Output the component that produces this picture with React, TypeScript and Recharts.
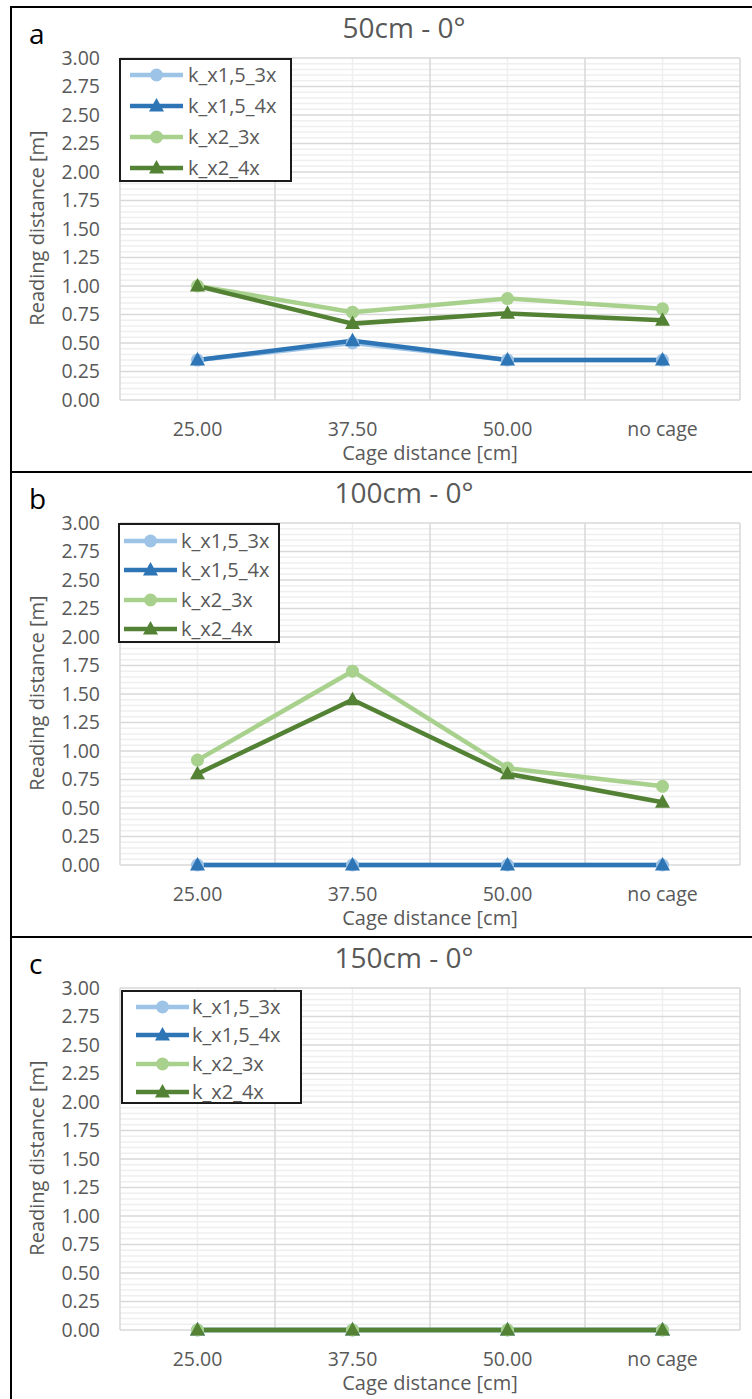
import React from 'react';
import { LineChart, Line, XAxis, YAxis, ReferenceLine } from 'recharts';

const categories = ['25.00', '37.50', '50.00', 'no cage'];
const seriesNames = ['k_x1,5_3x', 'k_x1,5_4x', 'k_x2_3x', 'k_x2_4x'];
const seriesColors = ['#9DC3E6', '#2E75B6', '#A9D18E', '#548235'];
const seriesMarkers = ['circle', 'triangle', 'circle', 'triangle'];
const yTicks = [0, 0.25, 0.5, 0.75, 1, 1.25, 1.5, 1.75, 2, 2.25, 2.5, 2.75, 3];

// 50cm - 0°
const a_x15_3x = [0.35, 0.5, 0.35, 0.35];
const a_x15_4x = [0.35, 0.52, 0.35, 0.35];
const a_x2_3x = [1.0, 0.77, 0.89, 0.8];
const a_x2_4x = [1.0, 0.67, 0.76, 0.7];

// 100cm - 0°
const b_x15_3x = [0, 0, 0, 0];
const b_x15_4x = [0, 0, 0, 0];
const b_x2_3x = [0.92, 1.7, 0.85, 0.69];
const b_x2_4x = [0.8, 1.45, 0.8, 0.55];

// 150cm - 0°
const c_x15_3x = [0, 0, 0, 0];
const c_x15_4x = [0, 0, 0, 0];
const c_x2_3x = [0, 0, 0, 0];
const c_x2_4x = [0, 0, 0, 0];

const FONT = '"Open Sans", "Noto Sans", sans-serif';
const TEXT = '#595959';

const makeRows = (s: number[][]) =>
  categories.map((c, i) => ({ x: i + 0.5, cat: c, s0: s[0][i], s1: s[1][i], s2: s[2][i], s3: s[3][i] }));

const minorY: number[] = [];
for (let i = 1; i < 60; i++) if (i % 5 !== 0) minorY.push(i * 0.05);

const Marker = ({ kind, cx, cy, color }: any) =>
  kind === 'circle' ? (
    <circle cx={cx} cy={cy} r={6.5} fill={color} />
  ) : (
    <path d={`M${cx},${cy - 8} L${cx + 7.5},${cy + 5.5} L${cx - 7.5},${cy + 5.5} Z`} fill={color} />
  );

const makeDot = (kind: string, color: string) => (props: any) => (
  <g key={`d-${props.index}`}>
    <Marker kind={kind} cx={props.cx} cy={props.cy} color={color} />
  </g>
);

interface LegendGeom {
  left: number;
  top: number;
  width: number;
  height: number;
  first: number;
  step: number;
  lineX: number;
  textX: number;
}

interface PanelProps {
  top: number;
  letter: string;
  title: string;
  series: number[][];
  legend: LegendGeom;
}

const Panel: React.FC<PanelProps> = ({ top, letter, title, series, legend }) => {
  const rows = makeRows(series);
  return (
    <div style={{ position: 'absolute', left: 0, top, width: 752, height: 466, fontFamily: FONT }}>
      <div
        style={{
          position: 'absolute',
          left: 10,
          top: 0,
          width: 800,
          height: 480,
          borderLeft: '2px solid #000',
          borderTop: '2px solid #000',
        }}
      />
      <LineChart width={752} height={466} data={rows} margin={{ top: 52, right: 12, bottom: 0, left: 60 }}>
        {minorY.map((v) => (
          <ReferenceLine key={`mn-${v}`} y={v} stroke="#efefef" strokeWidth={1.5} />
        ))}
        {rows.map((r) => (
          <ReferenceLine key={`vx-${r.x}`} x={r.x} stroke="#efefef" strokeWidth={1.5} />
        ))}
        {yTicks.map((v) => (
          <ReferenceLine key={`mj-${v}`} y={v} stroke="#d9d9d9" strokeWidth={1.5} />
        ))}
        {[0, 1, 2, 3, 4].map((v) => (
          <ReferenceLine key={`vb-${v}`} x={v} stroke="#d9d9d9" strokeWidth={1.5} />
        ))}
        <XAxis
          dataKey="x"
          type="number"
          domain={[0, 4]}
          ticks={rows.map((r) => r.x)}
          tickFormatter={(v) => categories[Math.floor(v)]}
          axisLine={false}
          tickLine={false}
          tickSize={0}
          tickMargin={22}
          height={72}
          tick={{ fill: TEXT, fontSize: 19.5, fontFamily: FONT }}
        />
        <YAxis
          type="number"
          domain={[0, 3]}
          ticks={yTicks}
          tickFormatter={(v) => Number(v).toFixed(2)}
          axisLine={false}
          tickLine={false}
          tickSize={0}
          tickMargin={20}
          width={60}
          interval={0}
          tick={{ fill: TEXT, fontSize: 19.5, fontFamily: FONT }}
        />
        {seriesNames.map((name, i) => (
          <Line
            key={name}
            dataKey={`s${i}`}
            name={name}
            stroke={seriesColors[i]}
            strokeWidth={4.5}
            type="linear"
            dot={makeDot(seriesMarkers[i], seriesColors[i])}
            activeDot={false}
            isAnimationActive={false}
          />
        ))}
      </LineChart>
      <div style={{ position: 'absolute', left: 29, top: 8, fontSize: 28, color: '#000' }}>{letter}</div>
      <div
        style={{
          position: 'absolute',
          left: 204,
          width: 400,
          top: 2,
          textAlign: 'center',
          fontSize: 28,
          color: TEXT,
        }}
      >
        {title}
      </div>
      <div
        style={{
          position: 'absolute',
          left: 37 - 150,
          top: 222 - 12,
          width: 300,
          height: 24,
          lineHeight: '24px',
          textAlign: 'center',
          fontSize: 20,
          color: TEXT,
          transform: 'rotate(-90deg)',
        }}
      >
        Reading distance [m]
      </div>
      <div
        style={{
          position: 'absolute',
          left: 280,
          width: 300,
          top: 447 - 10,
          height: 20,
          lineHeight: '20px',
          textAlign: 'center',
          fontSize: 20,
          color: TEXT,
        }}
      >
        Cage distance [cm]
      </div>
      <div
        style={{
          position: 'absolute',
          left: legend.left,
          top: legend.top,
          width: legend.width,
          height: legend.height,
          boxSizing: 'border-box',
          border: '2px solid #1a1a1a',
          background: '#fff',
        }}
      >
        {seriesNames.map((name, i) => (
          <div
            key={name}
            style={{
              position: 'absolute',
              left: 0,
              top: legend.first + i * legend.step - 12,
              height: 24,
              width: '100%',
            }}
          >
            <svg width={53} height={24} style={{ position: 'absolute', left: legend.lineX - 2, top: 0 }}>
              <line x1={0} y1={12} x2={53} y2={12} stroke={seriesColors[i]} strokeWidth={4.5} />
              <Marker kind={seriesMarkers[i]} cx={26.5} cy={12} color={seriesColors[i]} />
            </svg>
            <span
              style={{
                position: 'absolute',
                left: legend.textX - 2,
                top: 0,
                lineHeight: '24px',
                fontSize: 20,
                color: TEXT,
                whiteSpace: 'nowrap',
              }}
            >
              {name}
            </span>
          </div>
        ))}
      </div>
    </div>
  );
};

export default function App() {
  return (
    <div style={{ position: 'absolute', left: 0, top: 0, width: 752, height: 1399, background: '#fff', overflow: 'hidden' }}>
      <Panel
        top={6}
        letter="a"
        title="50cm - 0°"
        series={[a_x15_3x, a_x15_4x, a_x2_3x, a_x2_4x]}
        legend={{ left: 119, top: 52, width: 173, height: 124, first: 15, step: 31, lineX: 11, textX: 69 }}
      />
      <Panel
        top={471}
        letter="b"
        title="100cm - 0°"
        series={[b_x15_3x, b_x15_4x, b_x2_3x, b_x2_4x]}
        legend={{ left: 118, top: 52, width: 162, height: 120, first: 16, step: 29.3, lineX: 6, textX: 63 }}
      />
      <Panel
        top={936}
        letter="c"
        title="150cm - 0°"
        series={[c_x15_3x, c_x15_4x, c_x2_3x, c_x2_4x]}
        legend={{ left: 121, top: 54, width: 181, height: 114, first: 15, step: 28.3, lineX: 15, textX: 71 }}
      />
    </div>
  );
}
